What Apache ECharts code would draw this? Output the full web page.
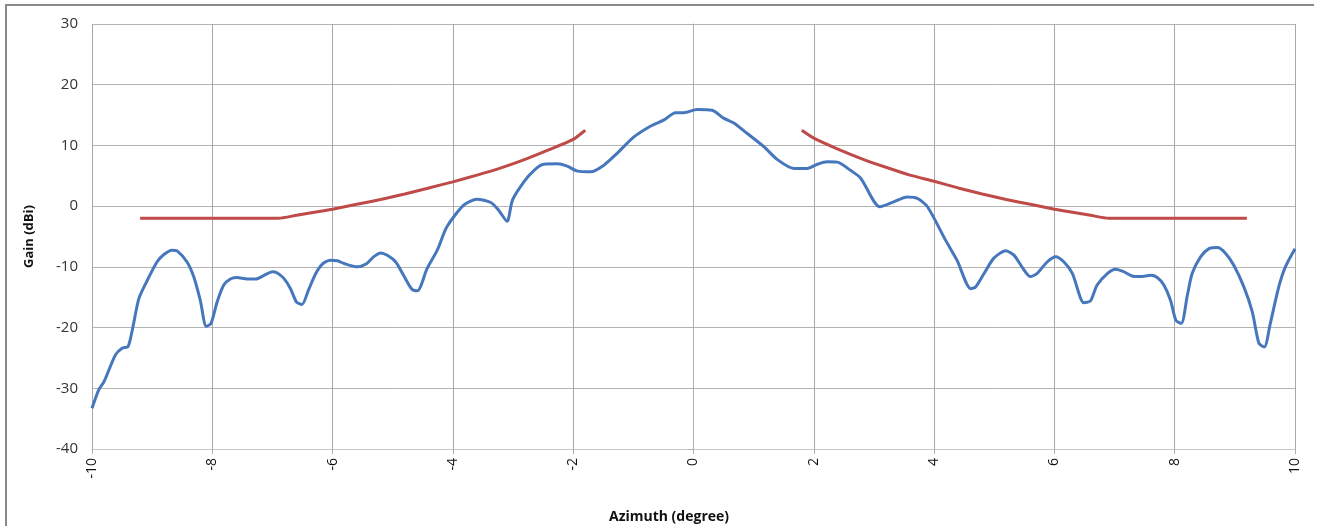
<!DOCTYPE html>
<html>
<head>
<meta charset="utf-8">
<script src="https://cdn.jsdelivr.net/npm/echarts@6/dist/echarts.min.js"></script>
<style>
html,body{margin:0;padding:0;background:#fff;}
#chart{width:1320px;height:526px;}
</style>
</head>
<body>
<div id="chart"></div>
<script>
// Measured antenna gain (blue)
const azimuth = [-10.00,-9.89,-9.80,-9.61,-9.50,-9.40,-9.33,-9.22,-9.08,-8.92,-8.81,-8.67,-8.58,-8.42,-8.31,-8.20,-8.10,-8.02,-7.92,-7.81,-7.70,-7.59,-7.42,-7.28,-7.14,-7.00,-6.92,-6.81,-6.70,-6.60,-6.51,-6.40,-6.28,-6.17,-6.04,-5.92,-5.81,-5.59,-5.43,-5.32,-5.20,-5.09,-4.95,-4.82,-4.68,-4.59,-4.43,-4.26,-4.10,-3.82,-3.60,-3.37,-3.24,-3.10,-3.01,-2.82,-2.65,-2.49,-2.27,-2.10,-1.93,-1.71,-1.49,-1.27,-0.99,-0.71,-0.49,-0.30,-0.16,0.06,0.31,0.50,0.67,0.89,1.17,1.39,1.67,1.89,2.06,2.22,2.39,2.61,2.78,3.10,3.33,3.55,3.72,3.89,4.19,4.38,4.61,4.69,4.83,4.99,5.19,5.33,5.46,5.60,5.71,5.88,6.02,6.16,6.30,6.49,6.60,6.71,6.88,7.02,7.15,7.29,7.43,7.60,7.71,7.82,7.93,8.02,8.11,8.21,8.29,8.43,8.57,8.71,8.84,8.98,9.15,9.29,9.40,9.49,9.59,9.73,9.84,10.00];
const gain = [-33.3,-30.3,-28.9,-24.5,-23.4,-23.1,-20.4,-15.2,-12.2,-9.2,-8.0,-7.25,-7.4,-9.2,-11.6,-15.5,-19.8,-19.3,-15.8,-13.0,-12.0,-11.75,-12.0,-12.0,-11.4,-10.8,-11.0,-11.9,-13.6,-15.8,-16.2,-13.8,-11.1,-9.55,-8.9,-9.0,-9.45,-10.0,-9.45,-8.35,-7.7,-8.1,-9.2,-11.4,-13.7,-13.95,-10.3,-7.25,-3.4,0.16,1.15,0.6,-0.66,-2.5,1.0,4.0,5.9,6.9,6.97,6.6,5.77,5.65,6.75,8.7,11.4,13.2,14.2,15.4,15.4,15.9,15.8,14.5,13.7,12.0,9.8,7.7,6.2,6.2,6.9,7.3,7.25,5.9,4.6,-0.1,0.7,1.5,1.27,-0.1,-5.6,-8.9,-13.6,-13.3,-11.1,-8.6,-7.35,-8.1,-10.0,-11.6,-11.1,-9.2,-8.35,-9.2,-11.1,-15.9,-15.6,-13.0,-11.1,-10.4,-10.8,-11.5,-11.6,-11.4,-11.75,-13.0,-15.5,-18.8,-19.3,-14.7,-11.1,-8.35,-7.0,-6.8,-7.7,-9.7,-13.3,-17.4,-22.6,-23.2,-19.3,-13.3,-10.0,-7.0];

// Mask (red), left and right branches
const maskLeftX = [-9.2,-6.9,-6.6,-6.3,-6.0,-5.6,-5.2,-4.8,-4.4,-4.0,-3.6,-3.2,-2.8,-2.4,-2.0,-1.8];
const maskLeftY = [-2.0,-2.0,-1.5,-1.0,-0.5,0.3,1.1,2.0,3.0,4.0,5.1,6.3,7.7,9.3,11.0,12.5];
const maskRightX = [1.8,2.0,2.4,2.8,3.2,3.6,4.0,4.4,4.8,5.2,5.6,6.0,6.3,6.6,6.9,9.2];
const maskRightY = [12.5,11.2,9.4,7.8,6.4,5.1,4.1,3.0,2.0,1.1,0.3,-0.5,-1.0,-1.5,-2.0,-2.0];

const xTicks = {min:-10, max:10, step:2};
const yTicks = {min:-40, max:30, step:10};

const zip = (a,b) => a.map((v,i)=>[v,b[i]]);

const chart = echarts.init(document.getElementById('chart'), null, {renderer:'canvas'});
const font = '"Open Sans", "Liberation Sans", sans-serif';
chart.setOption({
  animation:false,
  backgroundColor:'#ffffff',
  grid:{left:92, right:25, top:24, bottom:77, containLabel:false},
  title:{
    text:'Azimuth (degree)', left:664, top:505, textAlign:'center',
    textStyle:{fontFamily:font, fontSize:14, fontWeight:'bold', color:'#111'}
  },
  graphic:[{
    type:'polyline', silent:true,
    shape:{points:[[6,526],[6,5],[1314,5]]},
    style:{stroke:'#8a8a8a', lineWidth:2, fill:null}
  }],
  xAxis:{
    type:'value', min:xTicks.min, max:xTicks.max, interval:xTicks.step,
    axisLine:{show:true, onZero:false, lineStyle:{color:'#c8c8c8', width:1}},
    axisTick:{show:true, length:5, lineStyle:{color:'#b0b0b0'}},
    splitLine:{show:true, lineStyle:{color:'#a8a8a8', width:1}},
    axisLabel:{rotate:90, margin:9, fontFamily:font, fontSize:14, color:'#111'}
  },
  yAxis:{
    type:'value', min:yTicks.min, max:yTicks.max, interval:yTicks.step,
    name:'Gain (dBi)', nameLocation:'middle', nameGap:56, nameRotate:90,
    nameTextStyle:{fontFamily:font, fontSize:13, fontWeight:'bold', color:'#111'},
    axisLine:{show:true, lineStyle:{color:'#b0b0b0', width:1}},
    axisTick:{show:true, length:5, lineStyle:{color:'#b0b0b0'}},
    splitLine:{show:true, lineStyle:{color:'#b4b4b4', width:1}},
    axisLabel:{margin:14, fontFamily:font, fontSize:15, color:'#333'}
  },
  series:[
    {type:'line', name:'Measured', data:zip(azimuth,gain), showSymbol:false, smooth:0.25,
      lineStyle:{color:'#4677BD', width:3}, z:3},
    {type:'line', name:'Mask L', data:zip(maskLeftX,maskLeftY), showSymbol:false, smooth:0.2,
      lineStyle:{color:'#BE4B48', width:3}, z:2},
    {type:'line', name:'Mask R', data:zip(maskRightX,maskRightY), showSymbol:false, smooth:0.2,
      lineStyle:{color:'#BE4B48', width:3}, z:2}
  ]
});
</script>
</body>
</html>
